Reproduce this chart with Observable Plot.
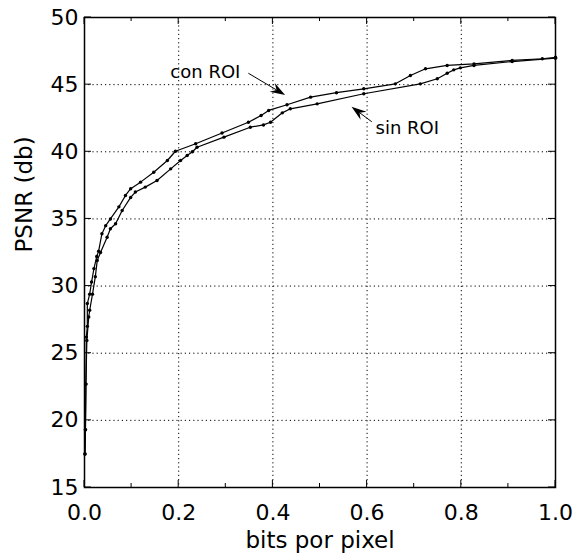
<!DOCTYPE html>
<html><head><meta charset="utf-8">
<script src="https://cdn.jsdelivr.net/npm/d3@7"></script>
<script src="https://cdn.jsdelivr.net/npm/@observablehq/plot@0.6"></script>
<style>
body{margin:0;background:#fff}
svg{font-family:"DejaVu Sans",sans-serif}
</style>
</head><body><div id="chart"></div>
<script>
// con ROI (upper curve)
const conX = [0.001,0.002,0.003,0.004,0.006,0.006,0.011,0.015,0.020,0.026,0.030,0.037,0.045,0.055,0.073,0.087,0.098,0.119,0.147,0.176,0.193,0.236,0.292,0.348,0.375,0.391,0.430,0.480,0.535,0.593,0.660,0.692,0.724,0.770,0.827,0.908,0.972,1.000];
const conY = [17.5,19.3,22.7,26.2,27.0,28.7,29.4,30.3,31.3,32.2,32.6,33.9,34.5,35.0,35.9,36.75,37.25,37.74,38.48,39.35,40.04,40.6,41.4,42.2,42.7,43.08,43.5,44.07,44.4,44.69,45.06,45.68,46.18,46.43,46.55,46.8,46.93,47.04];
// sin ROI (lower curve)
const sinX = [0.001,0.002,0.003,0.005,0.009,0.011,0.017,0.023,0.027,0.034,0.048,0.055,0.066,0.080,0.098,0.108,0.129,0.154,0.183,0.204,0.218,0.229,0.239,0.296,0.352,0.380,0.395,0.420,0.437,0.494,0.593,0.713,0.749,0.770,0.784,0.798,0.827,0.908,1.000];
const sinY = [17.5,19.3,22.7,25.95,27.7,28.2,29.4,30.7,31.9,32.5,33.64,34.27,34.64,35.63,36.6,37.0,37.37,37.86,38.73,39.35,39.72,40.0,40.34,41.09,41.83,42.0,42.2,42.9,43.2,43.57,44.32,45.06,45.44,45.85,46.1,46.25,46.43,46.72,46.97];

const xTicks = [0, 0.2, 0.4, 0.6, 0.8, 1.0];
const xTickLabels = ["0.0","0.2","0.4","0.6","0.8","1.0"];
const xMinorTicks = [0.1, 0.3, 0.5, 0.7, 0.9];
const xGrid = [0.2, 0.4, 0.6, 0.8];
const yTicks = [15, 20, 25, 30, 35, 40, 45, 50];
const yGrid = [20, 25, 30, 35, 40, 45];
const xLabel = "bits por pixel";
const yLabel = "PSNR (db)";

// annotations: [con ROI, sin ROI]
const annoLabels = ["con ROI", "sin ROI"];
const annoTextX = [0.331, 0.618];
const annoTextY = [45.9, 41.74];
const annoFromX = [0.349, 0.611];
const annoFromY = [45.81, 42.2];
const annoToX = [0.427, 0.568];
const annoToY = [44.19, 43.32];

const con = conX.map((x, i) => ({x, y: conY[i]}));
const sin = sinX.map((x, i) => ({x, y: sinY[i]}));
const annos = annoLabels.map((t, i) => ({t, x: annoTextX[i], y: annoTextY[i]}));

function ticksMark(index, scales, values, dims) {
  const {x, y} = scales;
  const {width, height, marginLeft, marginRight, marginTop, marginBottom} = dims;
  const b = height - marginBottom, t = marginTop, l = marginLeft, r = width - marginRight;
  const g = d3.create("svg:g").attr("stroke", "black").attr("stroke-width", 1);
  const major = 7, minor = 4;
  for (const v of xTicks) {
    const px = x(v);
    g.append("line").attr("x1", px).attr("x2", px).attr("y1", b).attr("y2", b - major);
    g.append("line").attr("x1", px).attr("x2", px).attr("y1", t).attr("y2", t + major);
  }
  for (const v of xMinorTicks) {
    const px = x(v);
    g.append("line").attr("x1", px).attr("x2", px).attr("y1", b).attr("y2", b - minor);
    g.append("line").attr("x1", px).attr("x2", px).attr("y1", t).attr("y2", t + minor);
  }
  for (const v of yTicks) {
    const py = y(v);
    g.append("line").attr("y1", py).attr("y2", py).attr("x1", l).attr("x2", l + major);
    g.append("line").attr("y1", py).attr("y2", py).attr("x1", r).attr("x2", r - major);
  }
  return g.node();
}

function arrowsMark(index, scales) {
  const g = d3.create("svg:g");
  annoFromX.forEach((_, i) => {
    const x1 = scales.x(annoFromX[i]), y1 = scales.y(annoFromY[i]);
    const x2 = scales.x(annoToX[i]), y2 = scales.y(annoToY[i]);
    const dx = x2 - x1, dy = y2 - y1, len = Math.hypot(dx, dy);
    const ux = dx / len, uy = dy / len, nx = -uy, ny = ux;
    const hl = 15, hw = 5, notch = 10;
    g.append("line").attr("x1", x1).attr("y1", y1)
      .attr("x2", x2 - ux * notch).attr("y2", y2 - uy * notch)
      .attr("stroke", "black").attr("stroke-width", 1);
    const pts = [
      [x2, y2],
      [x2 - ux * hl + nx * hw, y2 - uy * hl + ny * hw],
      [x2 - ux * notch, y2 - uy * notch],
      [x2 - ux * hl - nx * hw, y2 - uy * hl - ny * hw]
    ];
    g.append("polygon").attr("points", pts.map(p => p.join(",")).join(" ")).attr("fill", "black");
  });
  return g.node();
}

const chart = Plot.plot({
  width: 585,
  height: 553,
  marginLeft: 84,
  marginRight: 30,
  marginTop: 17,
  marginBottom: 66,
  style: {fontFamily: "DejaVu Sans", background: "#fff", color: "black"},
  x: {domain: [0, 1]},
  y: {domain: [15, 50]},
  marks: [
    Plot.ruleX(xGrid, {stroke: "black", strokeWidth: 1, strokeDasharray: "1.2,3"}),
    Plot.ruleY(yGrid, {stroke: "black", strokeWidth: 1, strokeDasharray: "1.2,3"}),
    Plot.line(con, {x: "x", y: "y", stroke: "black", strokeWidth: 1.2}),
    Plot.dot(con, {x: "x", y: "y", r: 1.7, fill: "black", stroke: "none"}),
    Plot.line(sin, {x: "x", y: "y", stroke: "black", strokeWidth: 1.2}),
    Plot.dot(sin, {x: "x", y: "y", r: 1.7, fill: "black", stroke: "none"}),
    Plot.text(annos.slice(0, 1), {x: "x", y: "y", text: "t", textAnchor: "end", fontSize: 18, fill: "black"}),
    Plot.text(annos.slice(1), {x: "x", y: "y", text: "t", textAnchor: "start", fontSize: 18, fill: "black"}),
    arrowsMark,
    ticksMark,
    Plot.frame({stroke: "black", strokeWidth: 1.5}),
    Plot.axisX({ticks: xTicks, tickFormat: d => xTickLabels[xTicks.indexOf(d)], tickSize: 0, tickPadding: 17, fontSize: 22, label: null}),
    Plot.axisY({ticks: yTicks, tickSize: 0, tickPadding: 6, fontSize: 22, label: null}),
    Plot.text([xLabel], {frameAnchor: "bottom", lineAnchor: "middle", dy: 53, fontSize: 23, fill: "black", text: d => d}),
    Plot.text([yLabel], {frameAnchor: "left", dx: -60, rotate: -90, fontSize: 23, fill: "black", text: d => d})
  ]
});
document.getElementById("chart").appendChild(chart);
</script>
</body></html>
